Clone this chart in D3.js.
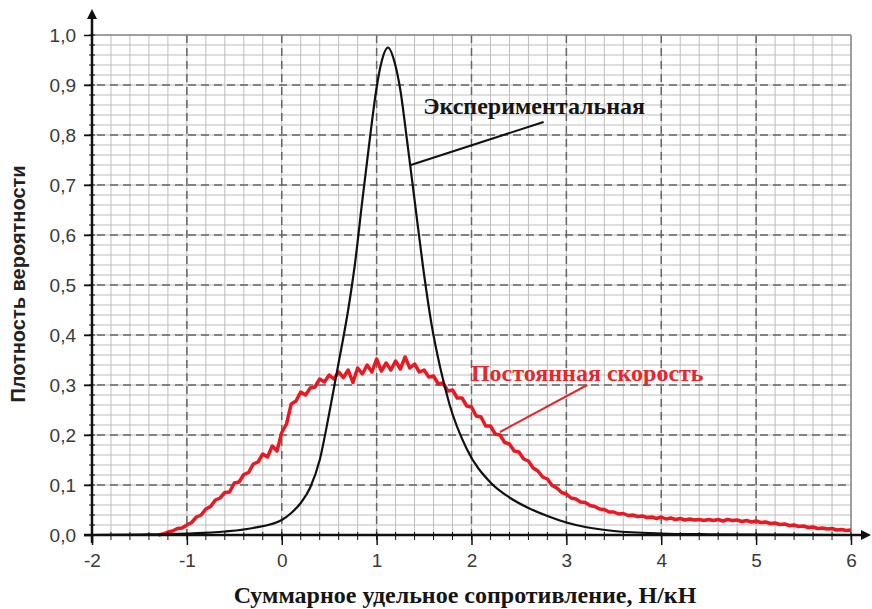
<!DOCTYPE html>
<html lang="ru">

<head>
  <meta charset="UTF-8">
  <title>Плотность вероятности</title>
  <script src="https://d3js.org/d3.v7.min.js"></script>
  <style>
    body {
      margin: 0;
      background: #ffffff;
    }

    .tick-label {
      font-family: "Liberation Sans", Arial, sans-serif;
      font-size: 19px;
      fill: #3a3a3a;
    }

    .serif-label {
      font-family: "Liberation Serif", "Times New Roman", serif;
      font-weight: bold;
    }
  </style>
</head>

<body>
  <svg width="872" height="609"></svg>
  <script>
    // значения оси X и Y
    const xTicks = [-2, -1, 0, 1, 2, 3, 4, 5, 6];
    const yTicks = [0, 0.1, 0.2, 0.3, 0.4, 0.5, 0.6, 0.7, 0.8, 0.9, 1.0];

    // экспериментальная кривая (x, плотность)
    const experimental = [
      [-2.0, 0.000], [-1.5, 0.001], [-1.0, 0.003], [-0.6, 0.007], [-0.3, 0.014],
      [0.0, 0.030], [0.1, 0.044], [0.2, 0.064], [0.3, 0.095], [0.4, 0.150],
      [0.5, 0.243], [0.6, 0.345], [0.7, 0.450], [0.77, 0.540], [0.85, 0.670],
      [0.93, 0.795], [1.0, 0.895], [1.05, 0.945], [1.12, 0.975], [1.19, 0.945],
      [1.25, 0.890], [1.32, 0.790], [1.40, 0.670], [1.49, 0.535], [1.58, 0.420],
      [1.67, 0.335], [1.77, 0.260], [1.95, 0.172], [2.2, 0.105], [2.4, 0.075],
      [2.6, 0.054], [2.8, 0.038], [3.0, 0.025], [3.2, 0.016], [3.5, 0.008],
      [4.0, 0.003], [4.5, 0.0015], [5.0, 0.001], [6.0, 0.000]
    ];

    // постоянная скорость (x, плотность)
    const constantSpeed = [
      [-1.30, 0.000], [-1.25, 0.002], [-1.20, 0.006], [-1.15, 0.008], [-1.10, 0.013],
      [-1.05, 0.014], [-1.00, 0.020], [-0.95, 0.025], [-0.90, 0.036], [-0.85, 0.040],
      [-0.80, 0.052], [-0.75, 0.057], [-0.70, 0.070], [-0.65, 0.074], [-0.60, 0.085],
      [-0.55, 0.086], [-0.50, 0.104], [-0.45, 0.106], [-0.40, 0.121], [-0.35, 0.125],
      [-0.30, 0.142], [-0.25, 0.146], [-0.20, 0.162], [-0.15, 0.156], [-0.10, 0.178],
      [-0.05, 0.168], [0.00, 0.205], [0.05, 0.222], [0.10, 0.262], [0.15, 0.268],
      [0.20, 0.286], [0.25, 0.280], [0.30, 0.294], [0.35, 0.296], [0.40, 0.312],
      [0.45, 0.306], [0.50, 0.320], [0.55, 0.312], [0.60, 0.326], [0.65, 0.315],
      [0.70, 0.330], [0.75, 0.305], [0.80, 0.334], [0.85, 0.322], [0.90, 0.340],
      [0.95, 0.326], [1.00, 0.352], [1.05, 0.328], [1.10, 0.344], [1.15, 0.330],
      [1.20, 0.348], [1.25, 0.332], [1.30, 0.356], [1.35, 0.334], [1.40, 0.342],
      [1.45, 0.326], [1.50, 0.330], [1.55, 0.316], [1.60, 0.318], [1.65, 0.302],
      [1.70, 0.304], [1.75, 0.288], [1.80, 0.290], [1.85, 0.274], [1.90, 0.274],
      [1.95, 0.258], [2.00, 0.256], [2.05, 0.238], [2.10, 0.236], [2.15, 0.218],
      [2.20, 0.218], [2.25, 0.202], [2.30, 0.200], [2.35, 0.185], [2.40, 0.182],
      [2.45, 0.168], [2.50, 0.166], [2.55, 0.152], [2.60, 0.148], [2.65, 0.134],
      [2.70, 0.128], [2.75, 0.116], [2.80, 0.112], [2.85, 0.099], [2.90, 0.094],
      [2.95, 0.085], [3.00, 0.082], [3.05, 0.074], [3.10, 0.072], [3.15, 0.066],
      [3.20, 0.065], [3.25, 0.059], [3.30, 0.057], [3.35, 0.052], [3.40, 0.051],
      [3.45, 0.046], [3.50, 0.046], [3.55, 0.042], [3.60, 0.043], [3.65, 0.039],
      [3.70, 0.040], [3.75, 0.037], [3.80, 0.038], [3.85, 0.035], [3.90, 0.036],
      [3.95, 0.033], [4.00, 0.036], [4.05, 0.032], [4.10, 0.034], [4.15, 0.031],
      [4.20, 0.033], [4.25, 0.030], [4.30, 0.032], [4.35, 0.030], [4.40, 0.031],
      [4.45, 0.029], [4.50, 0.031], [4.55, 0.029], [4.60, 0.031], [4.65, 0.028],
      [4.70, 0.031], [4.75, 0.029], [4.80, 0.030], [4.85, 0.027], [4.90, 0.029],
      [4.95, 0.026], [5.00, 0.028], [5.05, 0.025], [5.10, 0.026], [5.15, 0.023],
      [5.20, 0.024], [5.25, 0.021], [5.30, 0.022], [5.35, 0.019], [5.40, 0.020],
      [5.45, 0.017], [5.50, 0.018], [5.55, 0.015], [5.60, 0.016], [5.65, 0.013],
      [5.70, 0.014], [5.75, 0.012], [5.80, 0.013], [5.85, 0.010], [5.90, 0.011],
      [5.95, 0.009], [6.00, 0.010]
    ];

    const svg = d3.select("svg");
    const mLeft = 92, mRight = 851, mTop = 35, mBottom = 535;

    const x = d3.scaleLinear().domain([-2, 6]).range([mLeft, mRight]);
    const y = d3.scaleLinear().domain([0, 1]).range([mBottom, mTop]);

    // мелкая сетка
    const g = svg.append("g");
    g.selectAll(".vminor")
      .data(d3.range(-2, 6.001, 0.2))
      .enter().append("line")
      .attr("x1", d => x(d)).attr("x2", d => x(d))
      .attr("y1", mTop).attr("y2", mBottom)
      .attr("stroke", "#bdbdbd").attr("stroke-width", 1);
    g.selectAll(".hminor")
      .data(d3.range(0, 1.0001, 0.02))
      .enter().append("line")
      .attr("x1", mLeft).attr("x2", mRight)
      .attr("y1", d => y(d)).attr("y2", d => y(d))
      .attr("stroke", "#bdbdbd").attr("stroke-width", 1);

    // основная сетка (пунктир)
    g.selectAll(".vmajor")
      .data(xTicks.slice(1, -1))
      .enter().append("line")
      .attr("x1", d => x(d)).attr("x2", d => x(d))
      .attr("y1", mTop).attr("y2", mBottom)
      .attr("stroke", "#666").attr("stroke-width", 1.5)
      .attr("stroke-dasharray", "8,5");
    g.selectAll(".hmajor")
      .data(yTicks.slice(1, -1))
      .enter().append("line")
      .attr("x1", mLeft - 8).attr("x2", mRight)
      .attr("y1", d => y(d)).attr("y2", d => y(d))
      .attr("stroke", "#666").attr("stroke-width", 1.5)
      .attr("stroke-dasharray", "8,5");
    // рамка сверху и справа
    g.append("line").attr("x1", mLeft).attr("x2", mRight).attr("y1", mTop).attr("y2", mTop)
      .attr("stroke", "#8a8a8a").attr("stroke-width", 1.5);
    g.append("line").attr("x1", mRight).attr("x2", mRight).attr("y1", mTop).attr("y2", mBottom)
      .attr("stroke", "#8a8a8a").attr("stroke-width", 1.5);

    // кривые
    const line = d3.line().x(d => x(d[0])).y(d => y(d[1]));
    svg.append("path")
      .datum(constantSpeed)
      .attr("d", line)
      .attr("fill", "none")
      .attr("stroke", "#ea1820")
      .attr("stroke-width", 3.5)
      .attr("stroke-linejoin", "round");
    svg.append("path")
      .datum(experimental)
      .attr("d", line.curve(d3.curveMonotoneX))
      .attr("fill", "none")
      .attr("stroke", "#111")
      .attr("stroke-width", 2.2);

    // оси со стрелками
    svg.append("defs").append("marker")
      .attr("id", "arrow")
      .attr("viewBox", "0 0 10 10").attr("refX", 5).attr("refY", 5)
      .attr("markerWidth", 4).attr("markerHeight", 4)
      .attr("orient", "auto")
      .append("path").attr("d", "M0,0 L10,5 L0,10 z").attr("fill", "#111");

    svg.append("line")
      .attr("x1", mLeft).attr("x2", mLeft).attr("y1", mBottom + 8).attr("y2", 14)
      .attr("stroke", "#111").attr("stroke-width", 2.5).attr("marker-end", "url(#arrow)");
    svg.append("line")
      .attr("x1", mLeft - 8).attr("x2", 866).attr("y1", mBottom).attr("y2", mBottom)
      .attr("stroke", "#111").attr("stroke-width", 2.5).attr("marker-end", "url(#arrow)");

    const yAxis = d3.axisLeft(y).tickValues(yTicks).tickSize(8)
      .tickFormat(d => d3.format(".1f")(d).replace(".", ","));
    const yg = svg.append("g").attr("transform", `translate(${mLeft},0)`).call(yAxis);
    yg.select(".domain").remove();
    yg.selectAll(".tick line").attr("stroke", "#111").attr("stroke-width", 1.5);
    yg.selectAll(".tick text").attr("class", "tick-label").attr("x", -16);

    const xAxis = d3.axisBottom(x).tickValues(xTicks).tickSize(10).tickFormat(d => String(d));
    const xg = svg.append("g").attr("transform", `translate(0,${mBottom})`).call(xAxis);
    xg.select(".domain").remove();
    xg.selectAll(".tick line").attr("stroke", "#111").attr("stroke-width", 1.5);
    xg.selectAll(".tick text").attr("class", "tick-label").attr("y", 19);

    // мелкие засечки
    svg.append("g").selectAll("line")
      .data(d3.range(0, 1.0001, 0.02))
      .enter().append("line")
      .attr("x1", mLeft - 3).attr("x2", mLeft + 3)
      .attr("y1", d => y(d)).attr("y2", d => y(d))
      .attr("stroke", "#111").attr("stroke-width", 1);
    svg.append("g").selectAll("line")
      .data(d3.range(-2, 6.001, 0.2))
      .enter().append("line")
      .attr("x1", d => x(d)).attr("x2", d => x(d))
      .attr("y1", mBottom - 3).attr("y2", mBottom + 5)
      .attr("stroke", "#111").attr("stroke-width", 1);

    // подписи кривых
    svg.append("line")
      .attr("x1", x(1.36)).attr("y1", y(0.74))
      .attr("x2", x(2.76)).attr("y2", y(0.826))
      .attr("stroke", "#111").attr("stroke-width", 2);
    svg.append("text")
      .attr("class", "serif-label")
      .attr("x", x(2.66)).attr("y", 114)
      .attr("text-anchor", "middle")
      .attr("font-size", 24)
      .attr("fill", "#151515")
      .text("Экспериментальная");

    svg.append("line")
      .attr("x1", x(2.3)).attr("y1", y(0.206))
      .attr("x2", x(3.22)).attr("y2", y(0.3))
      .attr("stroke", "#e3282e").attr("stroke-width", 2);
    svg.append("text")
      .attr("class", "serif-label")
      .attr("x", x(3.22)).attr("y", 381)
      .attr("text-anchor", "middle")
      .attr("font-size", 24)
      .attr("fill", "#e3282e")
      .text("Постоянная скорость");

    // подписи осей
    svg.append("text")
      .attr("class", "serif-label")
      .attr("x", 465).attr("y", 603)
      .attr("text-anchor", "middle")
      .attr("font-size", 24)
      .attr("fill", "#151515")
      .text("Суммарное удельное сопротивление, Н/кН");

    svg.append("text")
      .attr("transform", "translate(25,284) rotate(-90)")
      .attr("text-anchor", "middle")
      .attr("font-family", "Liberation Sans, Arial, sans-serif")
      .attr("font-weight", "bold")
      .attr("font-size", 20)
      .attr("fill", "#222")
      .text("Плотность вероятности");
  </script>
</body>

</html>
